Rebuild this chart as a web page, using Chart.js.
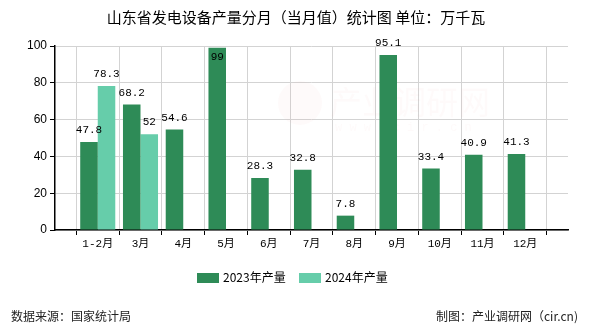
<!DOCTYPE html>
<html>
<head>
<meta charset="utf-8">
<script src="https://cdn.jsdelivr.net/npm/chart.js@4/dist/chart.umd.min.js"></script>
<style>
  html, body { margin: 0; padding: 0; background: #fff; }
  #chart { display: block; }
</style>
</head>
<body>
<canvas id="chart" width="590" height="330"></canvas>
<script>
// blank slots at both ends keep the months on the inner grid lines
const months = ["", "1-2月", "3月", "4月", "5月", "6月", "7月", "8月", "9月", "10月", "11月", "12月", ""];
const output2023 = [null, 47.8, 68.2, 54.6, 99, 28.3, 32.8, 7.8, 95.1, 33.4, 40.9, 41.3, null];
const output2024 = [null, 78.3, 52, null, null, null, null, null, null, null, null, null, null];
const seriesNames = ["2023年产量", "2024年产量"];
const seriesColors = ["#2e8b57", "#66cdaa"];
const yTicks = [0, 20, 40, 60, 80, 100];

const titleText = "山东省发电设备产量分月（当月值）统计图 单位：万千瓦";
const sourceText = "数据来源：国家统计局";
const creditText = "制图：产业调研网（cir.cn)";

const cjk = "'Noto Sans CJK SC', 'Liberation Sans', sans-serif";
const mono = "'Liberation Mono', 'Noto Sans CJK SC', monospace";

const decorations = {
  id: "decorations",
  beforeDatasetsDraw(chart) {
    const ctx = chart.ctx;
    // faint watermark behind the bars
    ctx.save();
    ctx.fillStyle = "rgba(235, 170, 170, 0.06)";
    ctx.beginPath();
    ctx.arc(300, 103, 22, 0, Math.PI * 2);
    ctx.fill();
    ctx.font = "32px " + cjk;
    ctx.textBaseline = "middle";
    ctx.fillText("产业调研网", 330, 102);
    ctx.font = "12px " + mono;
    ctx.fillText("w w w . c i r . c n", 335, 128);
    ctx.restore();
  },
  afterDraw(chart) {
    const ctx = chart.ctx;
    ctx.save();

    // value labels on the bars; a bar reaching the top gets its label inside
    ctx.font = "11px " + mono;
    ctx.fillStyle = "#000";
    ctx.textAlign = "center";
    chart.data.datasets.forEach((ds, i) => {
      chart.getDatasetMeta(i).data.forEach((bar, j) => {
        const v = ds.data[j];
        if (v == null) return;
        if (bar.y - 18 < chart.chartArea.top - 12) {
          ctx.textBaseline = "top";
          ctx.fillText(String(v), bar.x, bar.y + 4);
        } else {
          ctx.textBaseline = "alphabetic";
          ctx.fillText(String(v), bar.x, bar.y - 9);
        }
      });
    });

    // title
    ctx.font = "15px " + cjk;
    ctx.textBaseline = "middle";
    ctx.fillText(titleText, 296, 17);

    // legend
    ctx.font = "12px " + cjk;
    ctx.textAlign = "left";
    const legendX = [197, 299];
    seriesNames.forEach((name, i) => {
      ctx.fillStyle = seriesColors[i];
      ctx.fillRect(legendX[i], 273, 22, 10);
      ctx.fillStyle = "#000";
      ctx.fillText(name, legendX[i] + 26, 277);
    });

    // footer
    ctx.fillStyle = "#222";
    ctx.fillText(sourceText, 11, 316);
    ctx.textAlign = "right";
    ctx.fillText(creditText, 578, 316);
    ctx.restore();
  }
};

new Chart(document.getElementById("chart"), {
  type: "bar",
  data: {
    labels: months,
    datasets: [
      { label: seriesNames[0], data: output2023, backgroundColor: seriesColors[0] },
      { label: seriesNames[1], data: output2024, backgroundColor: seriesColors[1] }
    ]
  },
  options: {
    responsive: false,
    animation: false,
    events: [],
    categoryPercentage: 0.82,
    barPercentage: 1,
    layout: { padding: { left: 0, top: 46, right: 22, bottom: 70 } },
    plugins: {
      legend: { display: false },
      title: { display: false },
      tooltip: { enabled: false }
    },
    scales: {
      x: {
        offset: false,
        afterFit: s => { s.height = 30; },
        grid: { color: "#d3d3d3", tickColor: "#000", tickLength: 5, drawTicks: true },
        border: { color: "#000", width: 1.5 },
        ticks: {
          autoSkip: false,
          maxRotation: 0,
          padding: 2,
          color: "#000",
          font: { family: mono, size: 11 }
        }
      },
      y: {
        min: 0,
        max: 100,
        afterFit: s => { s.width = 55; },
        afterBuildTicks: s => { s.ticks = yTicks.map(v => ({ value: v })); },
        grid: { color: "#d3d3d3", tickColor: "#000", tickLength: 5 },
        border: { color: "#000", width: 1.5 },
        ticks: {
          padding: 3,
          color: "#000",
          font: { family: "'Liberation Sans', sans-serif", size: 12 }
        }
      }
    }
  },
  plugins: [decorations]
});
</script>
</body>
</html>
